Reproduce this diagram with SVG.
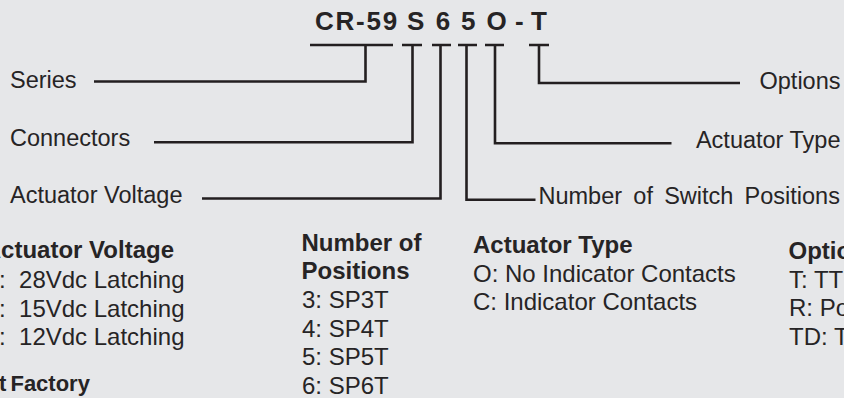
<svg xmlns="http://www.w3.org/2000/svg" width="844" height="398" viewBox="0 0 844 398">
<style>
.t{font-family:"Liberation Sans",Arial,Helvetica,sans-serif;fill:#262425}
.r{font-size:23.5px}
.b{font-size:24px;font-weight:bold}
.s{font-size:24px}
.ttl{font-size:26px;font-weight:bold;letter-spacing:1.75px}
.ln{fill:none;stroke:#231f20;stroke-width:2.6;stroke-linejoin:miter;stroke-linecap:butt}
</style>
<rect x="0" y="0" width="844" height="398" fill="#e6e7e9"/>

<g id="title">
<text class="t ttl" y="30"><tspan x="315">CR-59</tspan> <tspan x="407">S</tspan> <tspan x="435.7">6</tspan> <tspan x="461">5</tspan> <tspan x="486.6">O</tspan> <tspan x="515">-</tspan> <tspan x="531">T</tspan></text>
</g>

<g id="connectors">
<path class="ln" d="M310,45H393M365.5,45V81.5H94"/>
<path class="ln" d="M402,45H422M412.5,45V142.3H154"/>
<path class="ln" d="M432,45H451M440.5,45V198.5H202"/>
<path class="ln" d="M458,45H477M466.5,45V199.8H535.5"/>
<path class="ln" d="M485,45H504M495,45V143.3H671.5"/>
<path class="ln" d="M529,45H549M539,45V83H740"/>
</g>

<g id="label-series"><text class="t r" x="10" y="88">Series</text></g>
<g id="label-connectors"><text class="t r" x="10" y="146">Connectors</text></g>
<g id="label-actuator-voltage"><text class="t r" x="10" y="203">Actuator Voltage</text></g>
<g id="label-options"><text class="t r" x="840.5" y="89" text-anchor="end">Options</text></g>
<g id="label-actuator-type"><text class="t r" x="840.5" y="147.5" text-anchor="end">Actuator Type</text></g>
<g id="label-positions"><text class="t r" x="538.5" y="204" word-spacing="4.7">Number of Switch Positions</text></g>

<g id="legend-actuator-voltage">
<text class="t b" x="174" y="258" text-anchor="end">Actuator Voltage</text>
<text class="t s" x="184.5" y="288" text-anchor="end" xml:space="preserve">:  28Vdc Latching</text>
<text class="t s" x="184.5" y="316.5" text-anchor="end" xml:space="preserve">:  15Vdc Latching</text>
<text class="t s" x="184.5" y="345" text-anchor="end" xml:space="preserve">:  12Vdc Latching</text>
<text class="t" x="-1" y="391" font-size="22" font-weight="bold" word-spacing="-2">t Factory</text>
</g>

<g id="legend-positions">
<text class="t b" x="301.5" y="251">Number of</text>
<text class="t b" x="301.5" y="279">Positions</text>
<text class="t s" x="302" y="308">3:  SP3T</text>
<text class="t s" x="302" y="336.5">4:  SP4T</text>
<text class="t s" x="302" y="365">5:  SP5T</text>
<text class="t s" x="302" y="393.5">6:  SP6T</text>
</g>

<g id="legend-actuator-type">
<text class="t b" x="473" y="253">Actuator Type</text>
<text class="t s" x="473" y="281.5">O: No Indicator Contacts</text>
<text class="t s" x="473" y="310">C: Indicator Contacts</text>
</g>

<g id="legend-options">
<text class="t b" x="788.5" y="259">Options</text>
<text class="t s" x="789" y="287.5">T: TT</text>
<text class="t s" x="789" y="316">R: Po</text>
<text class="t s" x="789" y="344.5">TD: T</text>
</g>
</svg>
